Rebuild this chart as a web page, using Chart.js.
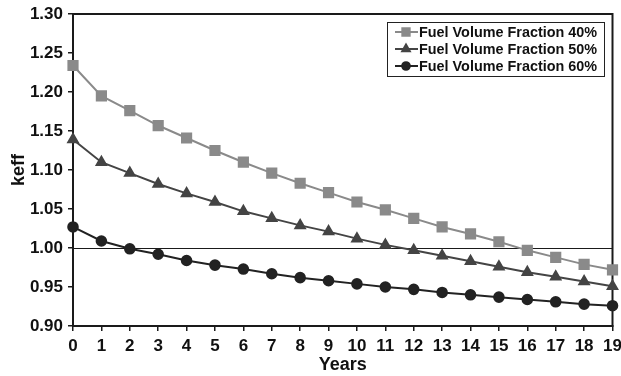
<!DOCTYPE html>
<html>
<head>
<meta charset="utf-8">
<script src="https://cdn.jsdelivr.net/npm/chart.js@4"></script>
<style>
  html, body { margin: 0; padding: 0; background: #fff; }
  #wrap { width: 621px; height: 376px; }
</style>
</head>
<body>
<div id="wrap"><canvas id="c" width="621" height="376"></canvas></div>
<script>
const years = ['0','1','2','3','4','5','6','7','8','9','10','11','12','13','14','15','16','17','18','19'];
const fuel40 = [1.234,1.195,1.176,1.157,1.141,1.125,1.110,1.096,1.083,1.071,1.059,1.049,1.038,1.027,1.018,1.008,0.997,0.988,0.979,0.972];
const fuel50 = [1.139,1.110,1.096,1.082,1.070,1.059,1.047,1.038,1.029,1.021,1.012,1.004,0.997,0.990,0.983,0.976,0.969,0.963,0.957,0.951];
const fuel60 = [1.027,1.009,0.999,0.992,0.984,0.978,0.973,0.967,0.962,0.958,0.954,0.950,0.947,0.943,0.940,0.937,0.934,0.931,0.928,0.926];
const seriesNames = ['Fuel Volume Fraction 40%', 'Fuel Volume Fraction 50%', 'Fuel Volume Fraction 60%'];
const refLine = 1.0;

const FONT = 'Liberation Sans, Arial, sans-serif';
const AXIS = '#1a1a1a';

// box around plot + the 1.00 reference line
const frame = {
  id: 'frame',
  beforeDatasetsDraw(chart) {
    const { ctx, chartArea: a, scales } = chart;
    const y = Math.round(scales.y.getPixelForValue(refLine)) + 0.5;
    ctx.save();
    ctx.strokeStyle = AXIS;
    ctx.lineWidth = 1.2;
    ctx.beginPath();
    ctx.moveTo(a.left, y);
    ctx.lineTo(a.right, y);
    ctx.stroke();
    ctx.lineWidth = 2;
    ctx.strokeRect(a.left, a.top, a.right - a.left, a.bottom - a.top);
    ctx.restore();
  }
};

// legend box with line + marker swatches
const boxLegend = {
  id: 'boxLegend',
  afterDraw(chart) {
    const { ctx } = chart;
    const x0 = 387, y0 = 22, w = 217, h = 54, row = 17;
    ctx.save();
    ctx.fillStyle = '#fff';
    ctx.fillRect(x0, y0, w, h);
    ctx.strokeStyle = '#222';
    ctx.lineWidth = 1;
    ctx.strokeRect(x0 + 0.5, y0 + 0.5, w, h);
    chart.data.datasets.forEach((ds, i) => {
      const cy = y0 + 10 + i * row;
      ctx.strokeStyle = ds.borderColor;
      ctx.lineWidth = 2;
      ctx.beginPath();
      ctx.moveTo(x0 + 8, cy);
      ctx.lineTo(x0 + 31, cy);
      ctx.stroke();
      Chart.helpers.drawPoint(ctx, {
        pointStyle: ds.pointStyle,
        radius: ds.pointRadius * 0.8,
        borderWidth: 1
      }, x0 + 19, cy);
      ctx.fillStyle = ds.pointBackgroundColor;
      ctx.strokeStyle = ds.pointBorderColor;
      ctx.fill();
      ctx.fillStyle = '#111';
      ctx.font = 'bold 14.4px ' + FONT;
      ctx.textBaseline = 'middle';
      ctx.fillText(ds.label, x0 + 32, cy + 1);
    });
    ctx.restore();
  }
};

const mk = (label, data, color, style, r) => ({
  label, data,
  borderColor: color,
  backgroundColor: color,
  pointBackgroundColor: color,
  pointBorderColor: color,
  pointStyle: style,
  pointRadius: r,
  borderWidth: 2,
  tension: 0
});

new Chart(document.getElementById('c'), {
  type: 'line',
  data: {
    labels: years,
    datasets: [
      mk(seriesNames[0], fuel40, '#8a8a8a', 'rect', 6.5),
      mk(seriesNames[1], fuel50, '#444444', 'triangle', 5.5),
      mk(seriesNames[2], fuel60, '#222222', 'circle', 4.8)
    ]
  },
  options: {
    responsive: false,
    animation: false,
    layout: { padding: { top: 14, right: 8, left: 0, bottom: 0 } },
    plugins: { legend: { display: false }, tooltip: { enabled: false } },
    scales: {
      x: {
        offset: false,
        grid: { drawOnChartArea: false, color: AXIS, tickLength: 5, lineWidth: 1.5 },
        border: { color: AXIS, width: 2 },
        ticks: { color: '#111', font: { family: FONT, size: 17, weight: 'bold' }, padding: 5, maxRotation: 0, autoSkip: false },
        title: { display: true, text: 'Years', color: '#111', font: { family: FONT, size: 18, weight: 'bold' }, padding: { top: -4, bottom: 0 } },
        afterFit(s) { s.height = 50; s.paddingLeft = 0; s.paddingRight = 0; }
      },
      y: {
        min: 0.9, max: 1.3,
        grid: { drawOnChartArea: false, color: AXIS, tickLength: 5, lineWidth: 1.5 },
        border: { color: AXIS, width: 2 },
        ticks: {
          stepSize: 0.05,
          color: '#111',
          font: { family: FONT, size: 17, weight: 'bold' },
          padding: 5,
          callback: v => Number(v).toFixed(2)
        },
        title: { display: true, text: 'keff', color: '#111', font: { family: FONT, size: 18, weight: 'bold' }, padding: { top: 8, bottom: 0 } },
        afterFit(s) { s.width = 73; s.paddingTop = 0; s.paddingBottom = 0; }
      }
    }
  },
  plugins: [frame, boxLegend]
});
</script>
</body>
</html>
